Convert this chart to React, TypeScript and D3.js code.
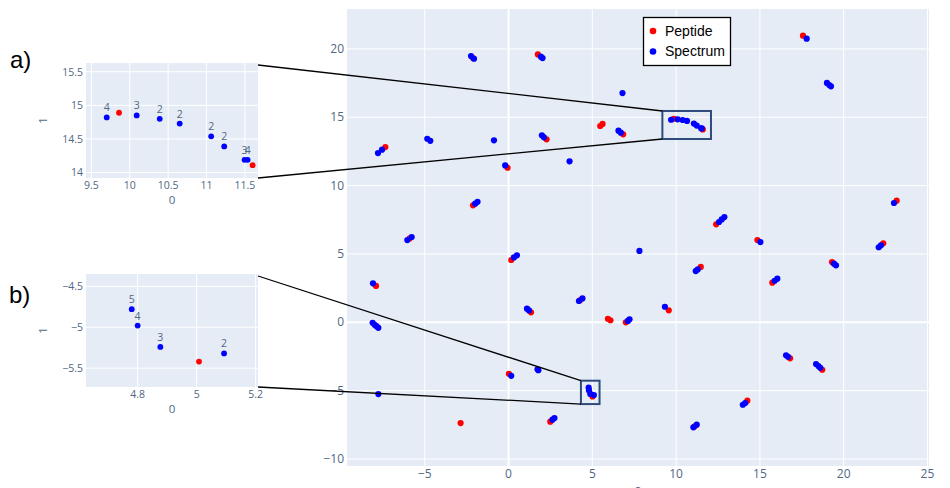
import React from "react";
import * as d3 from "d3";

// ---- Main chart data ----
const peptideX = [-2.12, 1.75, -7.35, -0.06, -2.12, -5.9, 2.27, 5.47, 5.61, 6.84, 9.86, 11.59, 12.39, 17.57, 23.16, 0.16, -7.91, 1.34, 0.02, -2.86, 11.47, 4.28, 5.93, 6.08, 7.0, 9.56, 5.01, 2.49, 11.11, 14.85, 22.36, 19.3, 15.74, 16.8, 18.72, 14.25];
const peptideY = [19.33, 19.6, 12.82, 11.31, 8.56, 6.14, 13.39, 14.36, 14.51, 13.75, 14.89, 14.11, 7.17, 20.97, 8.9, 4.56, 2.66, 0.73, -3.76, -7.37, 4.05, 1.63, 0.26, 0.15, 0.0, 0.88, -5.42, -7.27, -7.61, 6.02, 5.78, 4.41, 2.9, -2.63, -3.47, -5.73];

const spectrumX = [-2.24, -2.06, 1.93, 2.03, -7.79, -7.55, -4.85, -4.67, -0.87, -0.2, -1.99, -1.85, -6.04, -5.78, 6.8, 1.99, 2.11, 3.64, 6.56, 6.7, 9.7, 10.09, 10.39, 10.65, 11.06, 11.23, 11.49, 11.53, 12.56, 12.72, 12.88, 17.79, 19.0, 19.14, 19.24, 23.0, 0.32, 0.5, -8.09, 1.1, 1.22, -8.11, -7.99, -7.88, -7.77, 0.16, 1.73, 1.78, -7.77, 7.81, 11.17, 11.29, 4.2, 4.41, 7.12, 7.22, 9.33, 4.78, 4.8, 4.877, 5.093, 2.62, 2.74, 11.03, 11.23, 15.03, 22.09, 22.22, 19.42, 19.54, 15.88, 16.04, 16.56, 16.68, 18.35, 18.49, 18.6, 13.98, 14.12];
const spectrumY = [19.48, 19.28, 19.43, 19.33, 12.38, 12.63, 13.43, 13.28, 13.31, 11.48, 8.68, 8.82, 6.02, 6.24, 16.77, 13.68, 13.53, 11.78, 14.02, 13.87, 14.82, 14.85, 14.8, 14.73, 14.54, 14.39, 14.19, 14.19, 7.34, 7.53, 7.7, 20.75, 17.51, 17.36, 17.26, 8.73, 4.75, 4.9, 2.85, 1.0, 0.87, -0.03, -0.18, -0.28, -0.4, -3.91, -3.44, -3.5, -5.25, 5.22, 3.75, 3.87, 1.56, 1.75, 0.1, 0.22, 1.14, -4.78, -4.98, -5.24, -5.32, -7.12, -7.0, -7.68, -7.49, 5.87, 5.49, 5.63, 4.29, 4.17, 3.04, 3.19, -2.41, -2.52, -3.05, -3.2, -3.33, -6.03, -5.9];

const mainXTicks = [-5, 0, 5, 10, 15, 20, 25];
const mainYTicks = [-10, -5, 0, 5, 10, 15, 20];

const legendLabels = ["Peptide", "Spectrum"];

// ---- Inset a data ----
const aPepX = [9.86, 11.6];
const aPepY = [14.89, 14.11];
const aSpecX = [9.7, 10.09, 10.39, 10.65, 11.06, 11.23, 11.495, 11.535];
const aSpecY = [14.82, 14.85, 14.8, 14.73, 14.54, 14.39, 14.19, 14.19];
const aSpecLabels = ["4", "3", "2", "2", "2", "2", "3", "4"];
const aXTicks = [9.5, 10, 10.5, 11, 11.5];
const aYTicks = [14, 14.5, 15, 15.5];

// ---- Inset b data ----
const bPepX = [5.008];
const bPepY = [-5.42];
const bSpecX = [4.78, 4.8, 4.877, 5.093];
const bSpecY = [-4.78, -4.98, -5.24, -5.32];
const bSpecLabels = ["5", "4", "3", "2"];
const bXTicks = [4.8, 5, 5.2];
const bYTicks = [-5.5, -5, -4.5];

// zoom boxes in main data coords
const boxA = [9.18, 12.08, 13.41, 15.46];
const boxB = [4.32, 5.43, -5.98, -4.27];

const BG = "#E5ECF6";
const TICK = "#506784";
const RED = "#FF0000";
const BLUE = "#0000FF";
const FONT = "'Open Sans', 'Noto Sans', sans-serif";

const fmt = (v: number) => {
  const s = String(v);
  return v < 0 ? "\u2212" + s.slice(1) : s;
};

type InsetProps = {
  x0: number; x1: number; y0: number; y1: number;
  xd: [number, number]; yd: [number, number];
  xt: number[]; yt: number[];
  px: number[]; py: number[];
  sx: number[]; sy: number[]; sl: string[];
};

function Inset(p: InsetProps) {
  const xs = d3.scaleLinear().domain(p.xd).range([p.x0, p.x1]);
  const ys = d3.scaleLinear().domain(p.yd).range([p.y1, p.y0]);
  return (
    <g>
      <rect x={p.x0} y={p.y0} width={p.x1 - p.x0} height={p.y1 - p.y0} fill={BG} />
      {p.xt.map((t) => (
        <line key={"gx" + t} x1={xs(t)} x2={xs(t)} y1={p.y0} y2={p.y1} stroke="#fff" strokeWidth={1} />
      ))}
      {p.yt.map((t) => (
        <line key={"gy" + t} x1={p.x0} x2={p.x1} y1={ys(t)} y2={ys(t)} stroke="#fff" strokeWidth={1} />
      ))}
      {p.xt.map((t) => (
        <text key={"tx" + t} x={xs(t)} y={p.y1 + 11} textAnchor="middle" fontSize={10.5} fill={TICK} fontFamily={FONT}>{fmt(t)}</text>
      ))}
      {p.yt.map((t) => (
        <text key={"ty" + t} x={p.x0 - 3} y={ys(t) + 3.8} textAnchor="end" fontSize={10.5} fill={TICK} fontFamily={FONT}>{fmt(t)}</text>
      ))}
      <text x={(p.x0 + p.x1) / 2} y={p.y1 + 26} textAnchor="middle" fontSize={11.5} fill={TICK} fontFamily={FONT}>0</text>
      <text transform={`translate(47,${(p.y0 + p.y1) / 2}) rotate(-90)`} textAnchor="middle" fontSize={11.5} fill={TICK} fontFamily={FONT}>1</text>
      {p.px.map((v, i) => (
        <circle key={"p" + i} cx={xs(v)} cy={ys(p.py[i])} r={2.9} fill={RED} />
      ))}
      {p.sx.map((v, i) => (
        <circle key={"s" + i} cx={xs(v)} cy={ys(p.sy[i])} r={2.9} fill={BLUE} />
      ))}
      {p.sx.map((v, i) => (
        <text key={"l" + i} x={xs(v)} y={ys(p.sy[i]) - 6} textAnchor="middle" fontSize={10.5} fill={TICK} fontFamily={FONT}>{p.sl[i]}</text>
      ))}
    </g>
  );
}

export default function App() {
  const W = 950, H = 488;
  const L = 347, R = 929, T = 9, B = 466;
  const xs = d3.scaleLinear().domain([-9.64, 25.09]).range([L, R]);
  const ys = d3.scaleLinear().domain([-10.51, 22.92]).range([B, T]);

  const aRect = { x0: 86, x1: 258, y0: 63, y1: 178 };
  const bRect = { x0: 86, x1: 258, y0: 274, y1: 387 };

  const bxA = { l: xs(boxA[0]), r: xs(boxA[1]), t: ys(boxA[3]), b: ys(boxA[2]) };
  const bxB = { l: xs(boxB[0]), r: xs(boxB[1]), t: ys(boxB[3]), b: ys(boxB[2]) };

  return (
    <div style={{ position: "absolute", left: 0, top: 0 }}>
      <svg width={W} height={H} style={{ display: "block", background: "#fff" }}>
        {/* main plot */}
        <rect x={L} y={T} width={R - L} height={B - T} fill={BG} />
        {mainXTicks.map((t) => (
          <line key={"mx" + t} x1={xs(t)} x2={xs(t)} y1={T} y2={B} stroke="#fff" strokeWidth={t === 0 ? 2 : 1} />
        ))}
        {mainYTicks.map((t) => (
          <line key={"my" + t} x1={L} x2={R} y1={ys(t)} y2={ys(t)} stroke="#fff" strokeWidth={t === 0 ? 2 : 1} />
        ))}
        {mainXTicks.map((t) => (
          <text key={"mtx" + t} x={xs(t)} y={B + 12} textAnchor="middle" fontSize={12} fill={TICK} fontFamily={FONT}>{fmt(t)}</text>
        ))}
        {mainYTicks.map((t) => (
          <text key={"mty" + t} x={L - 3} y={ys(t) + 4} textAnchor="end" fontSize={12} fill={TICK} fontFamily={FONT}>{fmt(t)}</text>
        ))}
        <text x={(L + R) / 2} y={B + 31} textAnchor="middle" fontSize={14} fill={TICK} fontFamily={FONT}>0</text>

        {peptideX.map((v, i) => (
          <circle key={"mp" + i} cx={xs(v)} cy={ys(peptideY[i])} r={3.1} fill={RED} />
        ))}
        {spectrumX.map((v, i) => (
          <circle key={"ms" + i} cx={xs(v)} cy={ys(spectrumY[i])} r={3.1} fill={BLUE} />
        ))}

        {/* zoom boxes */}
        <rect x={bxA.l} y={bxA.t} width={bxA.r - bxA.l} height={bxA.b - bxA.t} fill="none" stroke="#2F4B7C" strokeWidth={2} />
        <rect x={bxB.l} y={bxB.t} width={bxB.r - bxB.l} height={bxB.b - bxB.t} fill="none" stroke="#2F4B7C" strokeWidth={2} />

        {/* connectors */}
        <line x1={aRect.x1} y1={aRect.y0 + 2} x2={bxA.l} y2={bxA.t} stroke="#000" strokeWidth={1.3} />
        <line x1={aRect.x1} y1={aRect.y1} x2={bxA.l} y2={bxA.b} stroke="#000" strokeWidth={1.3} />
        <line x1={bRect.x1} y1={bRect.y0 + 2} x2={bxB.l} y2={bxB.t} stroke="#000" strokeWidth={1.3} />
        <line x1={bRect.x1} y1={bRect.y1} x2={bxB.l} y2={bxB.b} stroke="#000" strokeWidth={1.3} />

        {/* legend */}
        <rect x={643.5} y={17.5} width={87} height={48} fill="#fff" stroke="#000" strokeWidth={1.3} />
        <circle cx={653} cy={31} r={3.3} fill={RED} />
        <text x={665} y={36} fontSize={14} fill="#000" fontFamily="'Liberation Sans', 'Noto Sans', sans-serif">{legendLabels[0]}</text>
        <circle cx={653} cy={51.5} r={3.3} fill={BLUE} />
        <text x={665} y={56} fontSize={14} fill="#000" fontFamily="'Liberation Sans', 'Noto Sans', sans-serif">{legendLabels[1]}</text>

        {/* insets */}
        <Inset {...aRect} xd={[9.43, 11.67]} yd={[13.92, 15.63]} xt={aXTicks} yt={aYTicks}
          px={aPepX} py={aPepY} sx={aSpecX} sy={aSpecY} sl={aSpecLabels} />
        <Inset {...bRect} xd={[4.625, 5.208]} yd={[-5.73, -4.35]} xt={bXTicks} yt={bYTicks}
          px={bPepX} py={bPepY} sx={bSpecX} sy={bSpecY} sl={bSpecLabels} />

        <text x={10} y={68} fontSize={24} fill="#000" fontFamily="'Liberation Sans', 'Noto Sans', sans-serif">a)</text>
        <text x={9} y={303} fontSize={24} fill="#000" fontFamily="'Liberation Sans', 'Noto Sans', sans-serif">b)</text>
      </svg>
    </div>
  );
}
